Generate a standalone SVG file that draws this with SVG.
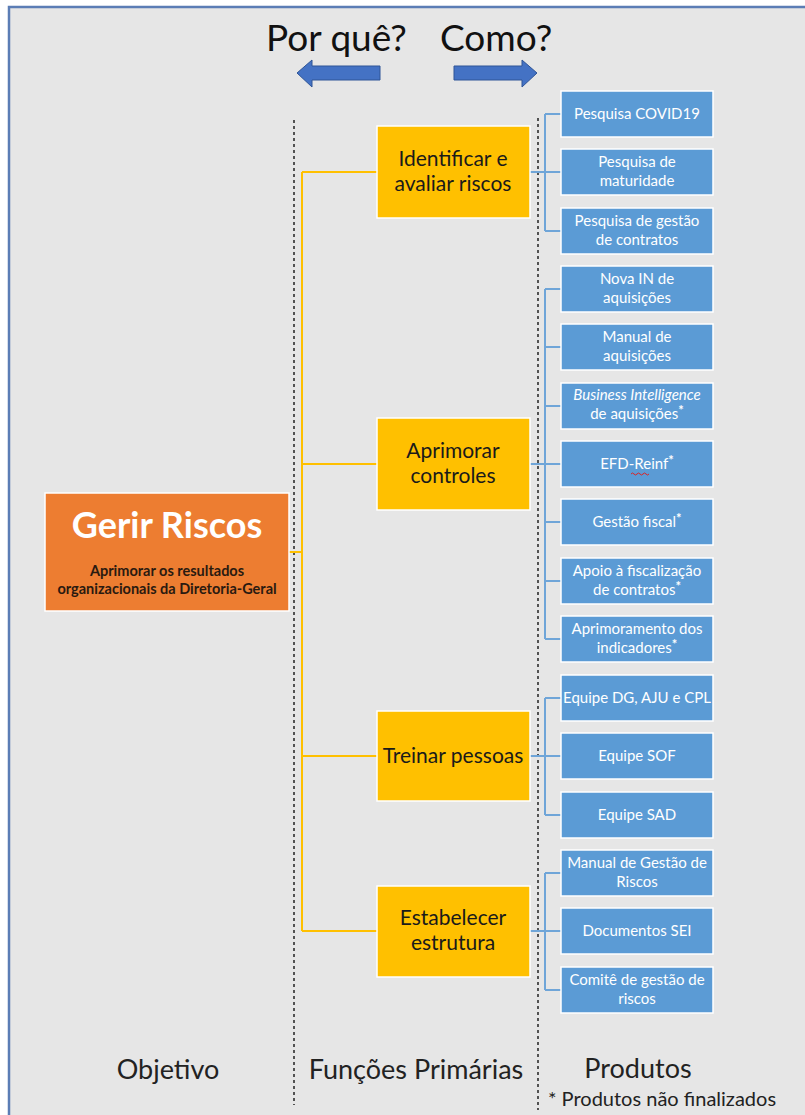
<svg xmlns="http://www.w3.org/2000/svg" width="805" height="1115" viewBox="0 0 805 1115">
<style>
.t{font-family:Lato,"Open Sans","Liberation Sans",sans-serif}
.big{font-size:37px;fill:#111}
.lab{font-size:27px;fill:#222}
.yb{fill:#FFC000;stroke:#fff;stroke-width:1.5}
.yt{font-size:21px;fill:#1a1a1a;text-anchor:middle}
.bb{fill:#5B9BD5;stroke:#fff;stroke-width:1.5}
.bt{font-size:15px;fill:#fff;text-anchor:middle}
.sup{font-size:13px;font-weight:bold}
.yl{stroke:#FFC000;stroke-width:2;fill:none}
.bl{stroke:#6FA5D8;stroke-width:2;fill:none}
.dash{stroke:#222;stroke-width:1.5;stroke-dasharray:3,3;fill:none}
.arr{fill:#4472C4;stroke:#2F5597;stroke-width:1}
</style>
<rect x="0" y="0" width="805" height="1115" fill="#fff"/>
<rect x="9" y="7" width="800" height="1115" fill="#E6E6E6" stroke="#5B7DB5" stroke-width="2.5"/>

<g id="header">
<text class="t big" x="266" y="51">Por quê?</text>
<text class="t big" x="440" y="51">Como?</text>
<polygon class="arr" points="297,73 312,60 312,66 380,66 380,80 312,80 312,87"/>
<polygon class="arr" points="537,73 522,60 522,66 454,66 454,80 522,80 522,87"/>
</g>

<g id="dividers">
<line class="dash" x1="294" y1="120" x2="294" y2="1105"/>
<line class="dash" x1="538" y1="118" x2="538" y2="1110"/>
</g>

<g id="connectors">
<path class="yl" d="M289,552 H302 M302,172 V931 M302,172 H378 M302,464 H378 M302,756 H378 M302,931 H378"/>
<path class="bl" d="M530,172 H545 M545,114 V231 M545,114 H561 M545,172 H561 M545,231 H561"/>
<path class="bl" d="M530,464 H545 M545,289 V639 M545,289 H561 M545,347 H561 M545,406 H561 M545,464 H561 M545,522 H561 M545,581 H561 M545,639 H561"/>
<path class="bl" d="M530,756 H545 M545,698 V815 M545,698 H561 M545,756 H561 M545,815 H561"/>
<path class="bl" d="M530,931 H545 M545,873 V990 M545,873 H561 M545,931 H561 M545,990 H561"/>
</g>

<g id="objetivo">
<rect x="45" y="493" width="244" height="118" fill="#ED7D31" stroke="#fff" stroke-width="1.5"/>
<text class="t" x="167" y="538" text-anchor="middle" font-size="36" font-weight="bold" fill="#fff">Gerir Riscos</text>
<text class="t" x="167" y="576" text-anchor="middle" font-size="14.5" font-weight="bold" fill="#2a1a10">Aprimorar os resultados</text>
<text class="t" x="167" y="594" text-anchor="middle" font-size="14.5" font-weight="bold" fill="#2a1a10">organizacionais da Diretoria-Geral</text>
</g>

<g id="f1"><rect class="yb" x="377" y="126" width="153" height="92"/>
<text class="t yt" x="453" y="166">Identificar e</text><text class="t yt" x="453" y="191">avaliar riscos</text></g>
<g id="f2"><rect class="yb" x="377" y="418" width="153" height="92"/>
<text class="t yt" x="453" y="458">Aprimorar</text><text class="t yt" x="453" y="483">controles</text></g>
<g id="f3"><rect class="yb" x="377" y="711" width="153" height="90"/>
<text class="t yt" x="453" y="763">Treinar pessoas</text></g>
<g id="f4"><rect class="yb" x="377" y="886" width="153" height="91"/>
<text class="t yt" x="453" y="925">Estabelecer</text><text class="t yt" x="453" y="950">estrutura</text></g>

<g id="p1"><rect class="bb" x="561" y="91" width="152" height="46"/><text class="t bt" x="637" y="119">Pesquisa COVID19</text></g>
<g id="p2"><rect class="bb" x="561" y="149" width="152" height="46"/><text class="t bt" x="637" y="167">Pesquisa de</text><text class="t bt" x="637" y="186">maturidade</text></g>
<g id="p3"><rect class="bb" x="561" y="208" width="152" height="46"/><text class="t bt" x="637" y="226">Pesquisa de gestão</text><text class="t bt" x="637" y="245">de contratos</text></g>
<g id="p4"><rect class="bb" x="561" y="266" width="152" height="46"/><text class="t bt" x="637" y="284">Nova IN de</text><text class="t bt" x="637" y="303">aquisições</text></g>
<g id="p5"><rect class="bb" x="561" y="324" width="152" height="46"/><text class="t bt" x="637" y="342">Manual de</text><text class="t bt" x="637" y="361">aquisições</text></g>
<g id="p6"><rect class="bb" x="561" y="383" width="152" height="46"/><text class="t bt" x="637" y="400" font-style="italic">Business Intelligence</text><text class="t bt" x="637" y="419">de aquisições<tspan class="sup" dy="-4">*</tspan></text></g>
<g id="p7"><rect class="bb" x="561" y="441" width="152" height="46"/><text class="t bt" x="637" y="469">EFD-Reinf<tspan class="sup" dy="-4">*</tspan></text>
<path d="M631,474 q1.5,-2 3,0 t3,0 t3,0 t3,0 t3,0 t3,0" fill="none" stroke="#d22" stroke-width="1"/></g>
<g id="p8"><rect class="bb" x="561" y="499" width="152" height="46"/><text class="t bt" x="637" y="527">Gestão fiscal<tspan class="sup" dy="-4">*</tspan></text></g>
<g id="p9"><rect class="bb" x="561" y="558" width="152" height="46"/><text class="t bt" x="637" y="576">Apoio à fiscalização</text><text class="t bt" x="637" y="595">de contratos<tspan class="sup" dy="-4">*</tspan></text></g>
<g id="p10"><rect class="bb" x="561" y="616" width="152" height="46"/><text class="t bt" x="637" y="634">Aprimoramento dos</text><text class="t bt" x="637" y="653">indicadores<tspan class="sup" dy="-4">*</tspan></text></g>
<g id="p11"><rect class="bb" x="561" y="675" width="152" height="46"/><text class="t bt" x="637" y="703">Equipe DG, AJU e CPL</text></g>
<g id="p12"><rect class="bb" x="561" y="733" width="152" height="46"/><text class="t bt" x="637" y="761">Equipe SOF</text></g>
<g id="p13"><rect class="bb" x="561" y="792" width="152" height="46"/><text class="t bt" x="637" y="820">Equipe SAD</text></g>
<g id="p14"><rect class="bb" x="561" y="850" width="152" height="46"/><text class="t bt" x="637" y="868">Manual de Gestão de</text><text class="t bt" x="637" y="887">Riscos</text></g>
<g id="p15"><rect class="bb" x="561" y="908" width="152" height="46"/><text class="t bt" x="637" y="936">Documentos SEI</text></g>
<g id="p16"><rect class="bb" x="561" y="967" width="152" height="46"/><text class="t bt" x="637" y="985">Comitê de gestão de</text><text class="t bt" x="637" y="1004">riscos</text></g>

<g id="footer">
<text class="t lab" x="168" y="1079" text-anchor="middle">Objetivo</text>
<text class="t lab" x="416" y="1079" text-anchor="middle">Funções Primárias</text>
<text class="t lab" x="638" y="1078" text-anchor="middle">Produtos</text>
<text class="t" x="548" y="1106" font-size="20" fill="#222">* Produtos não finalizados</text>
</g>
</svg>
